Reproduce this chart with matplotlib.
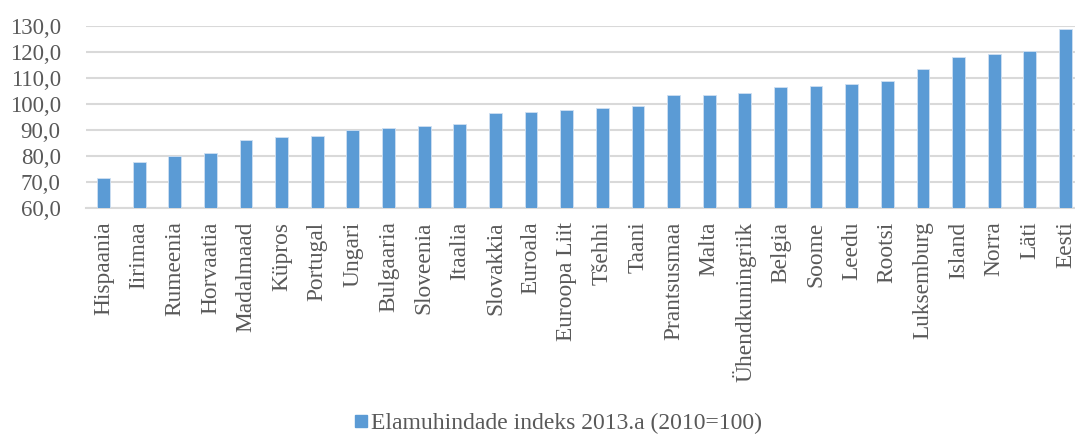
import matplotlib.pyplot as plt
from matplotlib.lines import Line2D

plt.rcParams['font.family'] = ['Liberation Serif', 'DejaVu Serif']

countries = ['Hispaania', 'Iirimaa', 'Rumeenia', 'Horvaatia', 'Madalmaad', 'Küpros',
             'Portugal', 'Ungari', 'Bulgaaria', 'Sloveenia', 'Itaalia', 'Slovakkia',
             'Euroala', 'Euroopa Liit', 'Tšehhi', 'Taani', 'Prantsusmaa', 'Malta',
             'Ühendkuningriik', 'Belgia', 'Soome', 'Leedu', 'Rootsi', 'Luksemburg',
             'Island', 'Norra', 'Läti', 'Eesti']
index_2013 = [71.4, 77.8, 80.1, 81.2, 86.2, 87.2, 87.6, 89.9, 90.7, 91.3, 92.4, 96.5,
              96.7, 97.6, 98.4, 99.1, 103.3, 103.5, 104.2, 106.5, 106.8, 107.6, 108.7,
              113.5, 118.2, 119.4, 120.3, 128.7]
yticks = [60, 70, 80, 90, 100, 110, 120, 130]
series_label = 'Elamuhindade indeks 2013.a (2010=100)'

bar_color = '#5b9bd5'
text_color = '#595959'
grid_color = '#d9d9d9'

fig = plt.figure(figsize=(10.75, 4.34), dpi=100)
ax = fig.add_axes([0.0797, 0.5214, 0.928, 0.4186])

x = range(len(countries))
ax.bar(x, [v - 60 for v in index_2013], bottom=60, width=0.36,
       color=bar_color, edgecolor='#cfe0f2', linewidth=0.6, zorder=3)

ax.set_xlim(-0.5, len(countries) - 0.5)
ax.set_ylim(60, 130)
ax.set_yticks(yticks)
ax.set_yticklabels([f'{t:.1f}'.replace('.', ',') for t in yticks])
ax.set_xticks(list(x))
ax.set_xticklabels(countries, rotation=90)

ax.tick_params(axis='both', length=0, colors=text_color, labelsize=16.5)
ax.tick_params(axis='x', pad=10, labelsize=16.8)
ax.tick_params(axis='y', pad=18)
for lbl in ax.get_yticklabels():
    lbl.set_color(text_color)

ax.yaxis.grid(True, color=grid_color, linewidth=1.5, zorder=0)
for side in ['top', 'right', 'left']:
    ax.spines[side].set_visible(False)
ax.spines['bottom'].set_color(grid_color)
ax.spines['bottom'].set_linewidth(1.5)
ax.spines['bottom'].set_zorder(1)

handle = Line2D([], [], marker='s', linestyle='none', markersize=8,
                markerfacecolor=bar_color, markeredgecolor=bar_color)
fig.legend([handle], [series_label], loc='center', bbox_to_anchor=(0.518, 0.025),
           frameon=False, fontsize=17, labelcolor=text_color,
           handletextpad=0.0, handlelength=0.8, borderaxespad=0)

fig.savefig('out.png', dpi=100)
